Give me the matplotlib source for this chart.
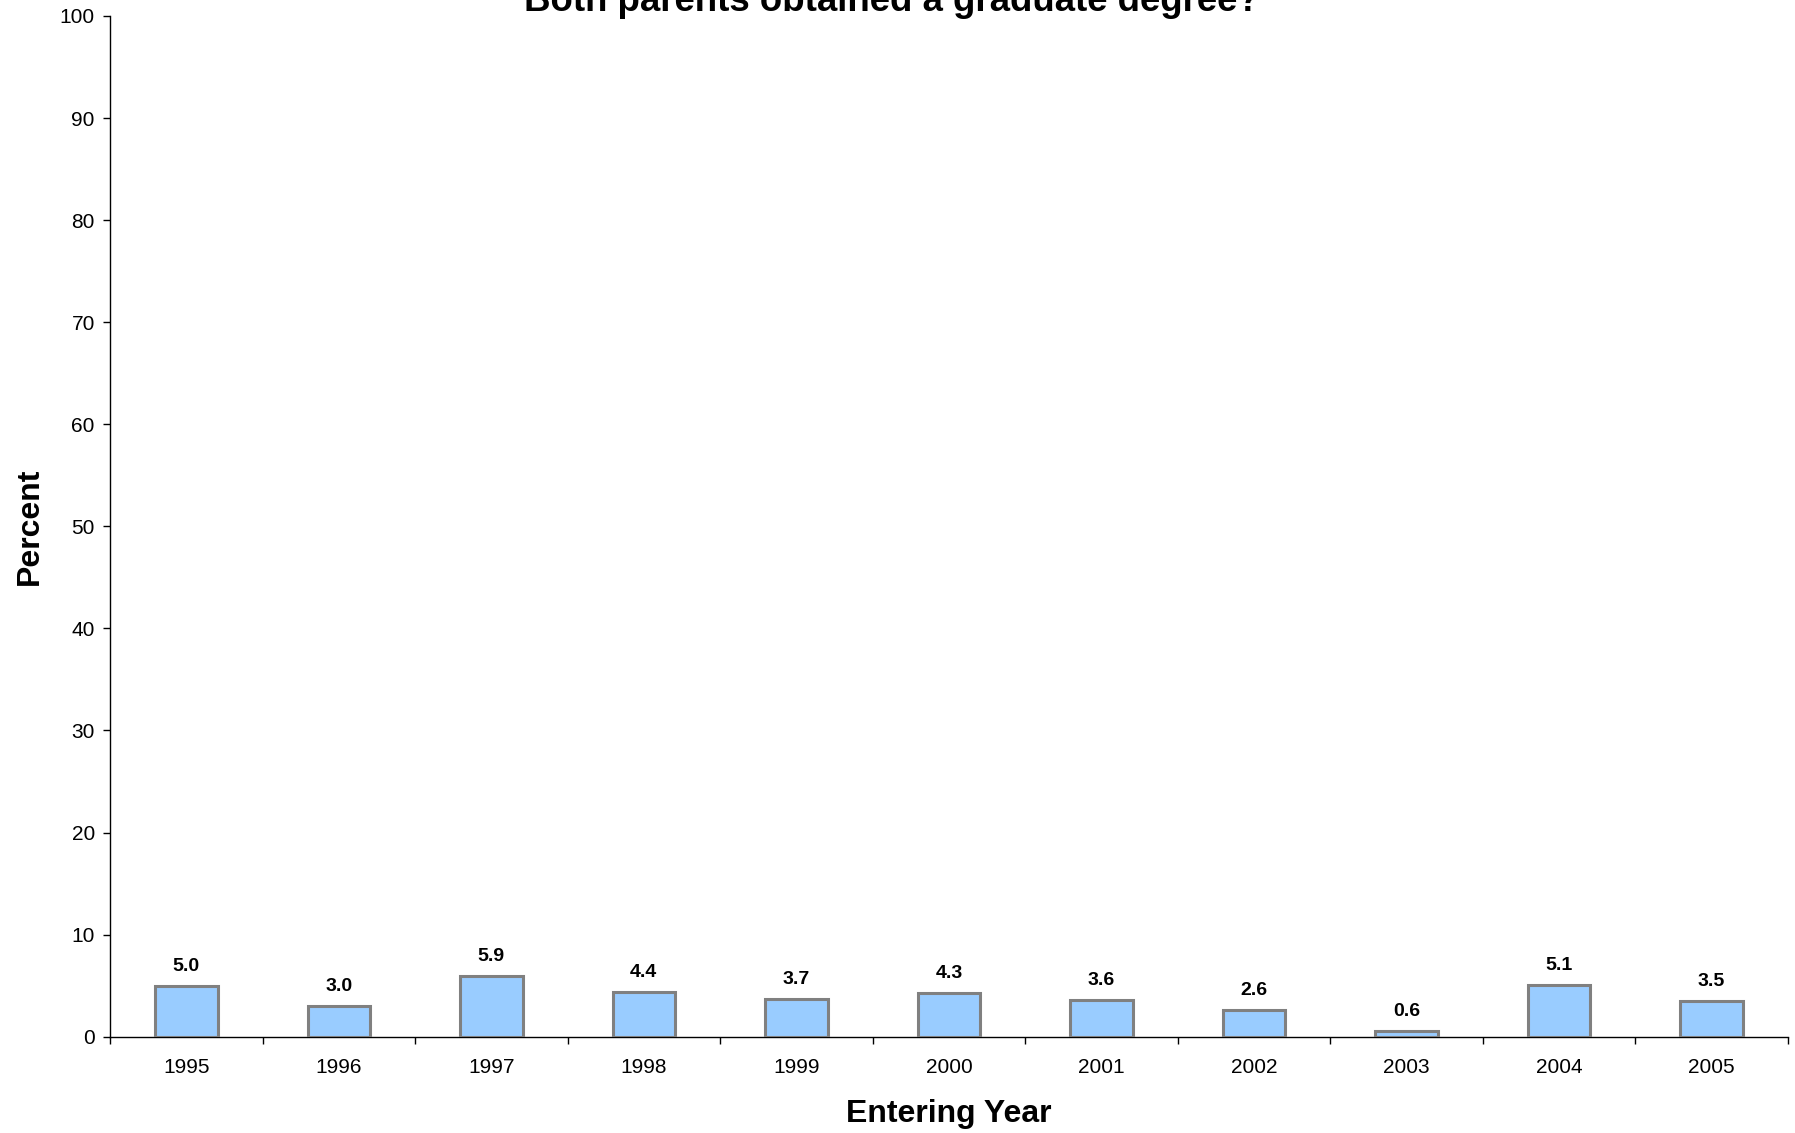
import numpy as np
import matplotlib
matplotlib.use("Agg")
import matplotlib.pyplot as plt

plt.rcParams['font.family'] = ['Liberation Sans', 'DejaVu Sans']

# data
years = ['1995', '1996', '1997', '1998', '1999', '2000',
         '2001', '2002', '2003', '2004', '2005']
percent = [5.0, 3.0, 5.9, 4.4, 3.7, 4.3, 3.6, 2.6, 0.6, 5.1, 3.5]
yticks = list(range(0, 101, 10))

fig = plt.figure(figsize=(17.95, 11.33), dpi=100)
ax = fig.add_axes([0.0613, 0.085, 0.996 - 0.0613, 0.9859 - 0.085])

x = np.arange(len(years))
ax.bar(x, percent, width=0.41, color='#99CCFF',
       edgecolor='#808080', linewidth=2.2, zorder=3)

for xi, v in zip(x, percent):
    ax.annotate(f'{v:.1f}', (xi, v), xytext=(0, 10.8), textcoords='offset points',
                ha='center', va='baseline', fontsize=14, fontweight='bold')

ax.set_xlim(-0.5, len(years) - 0.5)
ax.set_ylim(0, 100)
ax.set_yticks(yticks)
ax.tick_params(axis='y', length=5, width=1, pad=6, labelsize=15)

# ticks at category boundaries, labels at centres
ax.set_xticks(np.arange(-0.5, len(years), 1.0))
ax.set_xticklabels([])
ax.set_xticks(x, minor=True)
ax.set_xticklabels(years, minor=True)
ax.tick_params(axis='x', which='major', length=5, width=1, direction='out')
ax.tick_params(axis='x', which='minor', length=0, pad=15, labelsize=15)

for s in ['top', 'right']:
    ax.spines[s].set_visible(False)
for s in ['left', 'bottom']:
    ax.spines[s].set_linewidth(1)

ax.set_xlabel('Entering Year', fontsize=23, fontweight='bold')
ax.xaxis.set_label_coords(0.5, -0.061)
ax.set_ylabel('Percent', fontsize=23, fontweight='bold')
ax.yaxis.set_label_coords(-0.039, 0.5)

fig.text(0.4967, 1 - 11 / 1133, 'Both parents obtained a graduate degree?',
         ha='center', va='baseline', fontsize=26.4, fontweight='bold')

fig.savefig('out.png', dpi=100)
